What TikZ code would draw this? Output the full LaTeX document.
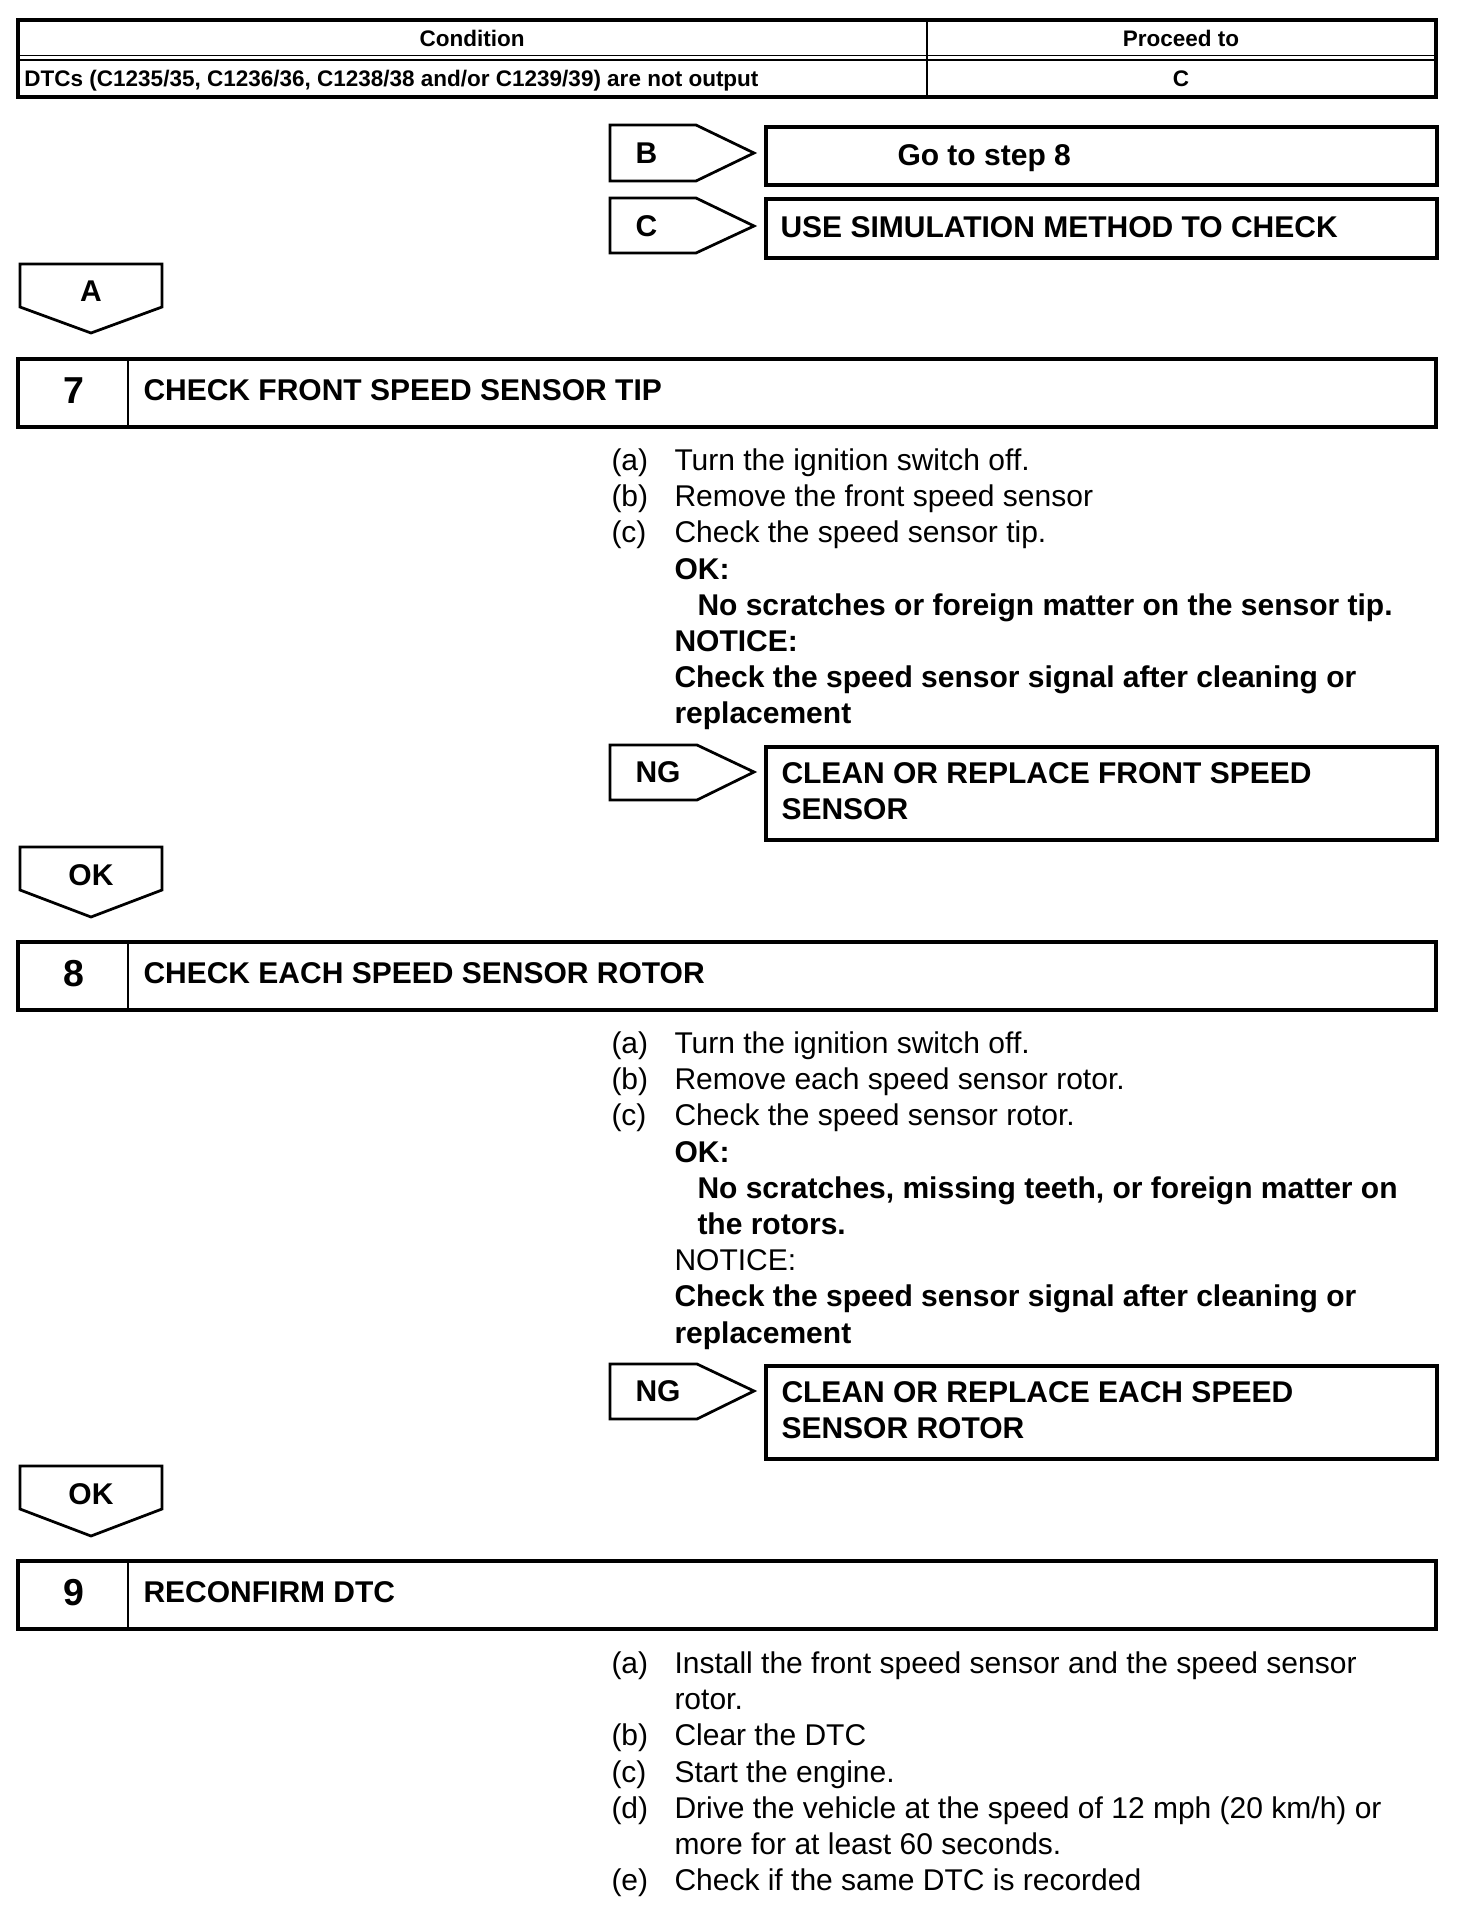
\documentclass[tikz,border=0pt]{standalone}
\usepackage{fontspec}
\setmainfont{Liberation Sans}
\tikzstyle{frame}=[draw, line width=1.4pt]
\tikzstyle{tag outline}=[draw, line width=1.1pt, line join=miter]
\tikzstyle{double rule}=[draw, line width=0.5pt]
\tikzstyle{tabletext}=[inner sep=0, text height=6.45pt, text depth=0pt, font=\fontsize{9}{11}\selectfont\bfseries]
\tikzstyle{bodytext}=[inner sep=0, anchor=west, text height=8.6pt, text depth=0pt, font=\fontsize{12}{14}\selectfont]
\tikzstyle{boldtext}=[bodytext, font=\fontsize{12}{14}\selectfont\bfseries]
\tikzstyle{stepnum}=[inner sep=0, text height=10.7pt, text depth=0pt, font=\fontsize{15}{17}\selectfont\bfseries]

\begin{document}
\begin{tikzpicture}[x=0.4pt, y=-0.4pt]
      \useasboundingbox (0,0) rectangle (1472,1926);

      % condition table
      \draw[frame] (18,20) rectangle (1436,97);
      \draw[double rule] (18,55.5) -- (1436,55.5);
      \draw[double rule] (18,60) -- (1436,60);
      \draw[line width=0.9pt] (927,20) -- (927,97);
      \node[tabletext] (condition) at (472,38) {Condition};
      \node[tabletext] (proceed) at (1181,38) {Proceed to};
      \node[tabletext, anchor=west] (dtcs) at (24,78) {DTCs (C1235/35, C1236/36, C1238/38 and/or C1239/39) are not output};
      \node[tabletext] (proceed_c) at (1181,78) {C};

      % results B and C
      \draw[tag outline] (610,125) -- (696,125) -- (754,153) -- (696,181) -- (610,181) -- cycle;
      \node[boldtext] (tag_b) at (635,153) {B};
      \draw[frame] (766,127) rectangle (1437,185);
      \node[boldtext] (goto8) at (897,155) {Go to step 8};

      \draw[tag outline] (610,198) -- (696,198) -- (754,226) -- (696,253) -- (610,253) -- cycle;
      \node[boldtext] (tag_c) at (635,226) {C};
      \draw[frame] (766,199) rectangle (1437,258);
      \node[boldtext] (simulation) at (780,227) {USE SIMULATION METHOD TO CHECK};

      \draw[tag outline] (20,264) -- (162,264) -- (162,307) -- (91,333) -- (20,307) -- cycle;
      \node[boldtext, anchor=center] (tag_a) at (91,291) {A};

      % step 7
      \draw[frame] (18,359) rectangle (1436,427);
      \draw[line width=1.1pt] (128,359) -- (128,427);
      \node[stepnum] (num7) at (74,390) {7};
      \node[boldtext] (title7) at (143,390) {CHECK FRONT SPEED SENSOR TIP};

      \node[bodytext] (s7a) at (611,460) {(a)};
      \node[bodytext] (s7a_text) at (674,460) {Turn the ignition switch off.};
      \node[bodytext] (s7b) at (611,496) {(b)};
      \node[bodytext] (s7b_text) at (674,496) {Remove the front speed sensor};
      \node[bodytext] (s7c) at (611,532) {(c)};
      \node[bodytext] (s7c_text) at (674,532) {Check the speed sensor tip.};
      \node[boldtext] (s7ok) at (674,569) {OK:};
      \node[boldtext] (s7ok_text) at (697,605) {No scratches or foreign matter on the sensor tip.};
      \node[boldtext] (s7notice) at (674,641) {NOTICE:};
      \node[boldtext] (s7notice_1) at (674,677) {Check the speed sensor signal after cleaning or};
      \node[boldtext] (s7notice_2) at (674,713) {replacement};

      \draw[tag outline] (610,745) -- (697,745) -- (754,772) -- (697,800) -- (610,800) -- cycle;
      \node[boldtext] (tag_ng7) at (635,772) {NG};
      \draw[frame] (766,747) rectangle (1437,840);
      \node[boldtext] (clean7_1) at (781,773) {CLEAN OR REPLACE FRONT SPEED};
      \node[boldtext] (clean7_2) at (781,809) {SENSOR};

      \draw[tag outline] (20,847) -- (162,847) -- (162,890) -- (91,917) -- (20,890) -- cycle;
      \node[boldtext, anchor=center] (tag_ok7) at (91,875) {OK};

      % step 8
      \draw[frame] (18,942) rectangle (1436,1010);
      \draw[line width=1.1pt] (128,942) -- (128,1010);
      \node[stepnum] (num8) at (74,973) {8};
      \node[boldtext] (title8) at (143,973) {CHECK EACH SPEED SENSOR ROTOR};

      \node[bodytext] (s8a) at (611,1043) {(a)};
      \node[bodytext] (s8a_text) at (674,1043) {Turn the ignition switch off.};
      \node[bodytext] (s8b) at (611,1079) {(b)};
      \node[bodytext] (s8b_text) at (674,1079) {Remove each speed sensor rotor.};
      \node[bodytext] (s8c) at (611,1115) {(c)};
      \node[bodytext] (s8c_text) at (674,1115) {Check the speed sensor rotor.};
      \node[boldtext] (s8ok) at (674,1152) {OK:};
      \node[boldtext] (s8ok_1) at (697,1188) {No scratches, missing teeth, or foreign matter on};
      \node[boldtext] (s8ok_2) at (697,1224) {the rotors.};
      \node[bodytext] (s8notice) at (674,1260) {NOTICE:};
      \node[boldtext] (s8notice_1) at (674,1296) {Check the speed sensor signal after cleaning or};
      \node[boldtext] (s8notice_2) at (674,1333) {replacement};

      \draw[tag outline] (610,1364) -- (697,1364) -- (754,1391) -- (697,1419) -- (610,1419) -- cycle;
      \node[boldtext] (tag_ng8) at (635,1391) {NG};
      \draw[frame] (766,1366) rectangle (1437,1459);
      \node[boldtext] (clean8_1) at (781,1392) {CLEAN OR REPLACE EACH SPEED};
      \node[boldtext] (clean8_2) at (781,1428) {SENSOR ROTOR};

      \draw[tag outline] (20,1466) -- (162,1466) -- (162,1509) -- (91,1536) -- (20,1509) -- cycle;
      \node[boldtext, anchor=center] (tag_ok8) at (91,1494) {OK};

      % step 9
      \draw[frame] (18,1561) rectangle (1436,1629);
      \draw[line width=1.1pt] (128,1561) -- (128,1629);
      \node[stepnum] (num9) at (74,1592) {9};
      \node[boldtext] (title9) at (143,1592) {RECONFIRM DTC};

      \node[bodytext] (s9a) at (611,1663) {(a)};
      \node[bodytext] (s9a_1) at (674,1663) {Install the front speed sensor and the speed sensor};
      \node[bodytext] (s9a_2) at (674,1699) {rotor.};
      \node[bodytext] (s9b) at (611,1735) {(b)};
      \node[bodytext] (s9b_text) at (674,1735) {Clear the DTC};
      \node[bodytext] (s9c) at (611,1772) {(c)};
      \node[bodytext] (s9c_text) at (674,1772) {Start the engine.};
      \node[bodytext] (s9d) at (611,1808) {(d)};
      \node[bodytext] (s9d_1) at (674,1808) {Drive the vehicle at the speed of 12 mph (20 km/h) or};
      \node[bodytext] (s9d_2) at (674,1844) {more for at least 60 seconds.};
      \node[bodytext] (s9e) at (611,1880) {(e)};
      \node[bodytext] (s9e_text) at (674,1880) {Check if the same DTC is recorded};
    \end{tikzpicture}
\end{document}
